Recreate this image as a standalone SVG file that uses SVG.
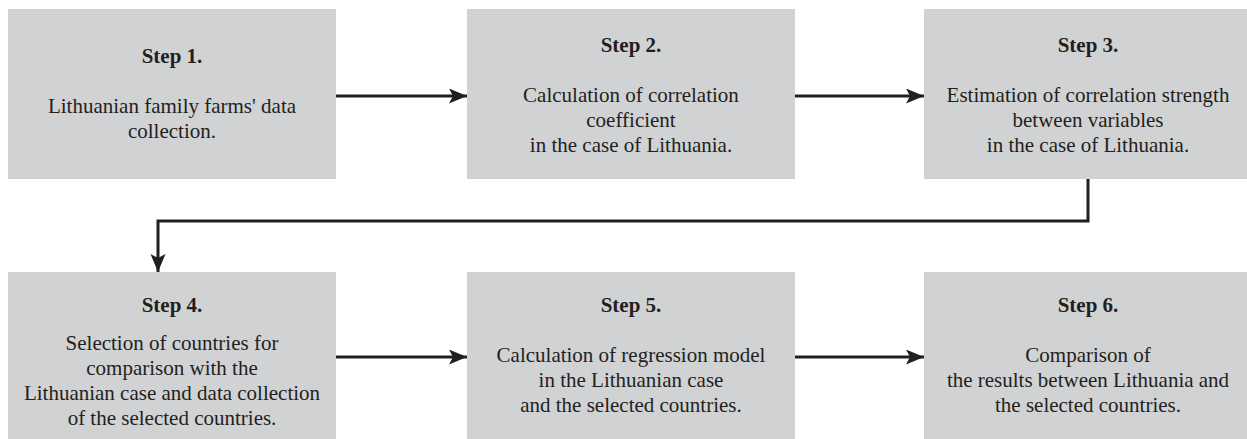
<svg xmlns="http://www.w3.org/2000/svg" width="1247" height="439" viewBox="0 0 1247 439">
<style>
.box{fill:#d1d2d4}
.t{font-size:21px;fill:#231f20;text-anchor:middle}
.h{font-weight:bold}
.c{fill:none;stroke:#231f20;stroke-width:3}
</style>
<defs>
<marker id="ah" markerUnits="userSpaceOnUse" markerWidth="20" markerHeight="16" refX="18" refY="7.5" orient="auto">
<path d="M0,0 L18,7.5 L0,15 L4,7.5 Z" fill="#231f20"/>
</marker>
</defs>
<rect width="1247" height="439" fill="#fff"/>
<g font-family="Liberation Serif, DejaVu Serif, serif">
<g id="step1"><rect class="box" x="8" y="9" width="328" height="170"/>
<text class="t h" x="172" y="63">Step 1.</text>
<text class="t" x="172" y="113">Lithuanian family farms' data</text>
<text class="t" x="172" y="138">collection.</text></g>
<g id="step2"><rect class="box" x="467" y="9" width="328" height="170"/>
<text class="t h" x="631" y="52">Step 2.</text>
<text class="t" x="631" y="102">Calculation of correlation</text>
<text class="t" x="631" y="127">coefficient</text>
<text class="t" x="631" y="152">in the case of Lithuania.</text></g>
<g id="step3"><rect class="box" x="924" y="9" width="328" height="170"/>
<text class="t h" x="1088" y="52">Step 3.</text>
<text class="t" x="1088" y="102">Estimation of correlation strength</text>
<text class="t" x="1088" y="127">between variables</text>
<text class="t" x="1088" y="152">in the case of Lithuania.</text></g>
<g id="step4"><rect class="box" x="8" y="272" width="328" height="170"/>
<text class="t h" x="172" y="312">Step 4.</text>
<text class="t" x="172" y="350">Selection of countries for</text>
<text class="t" x="172" y="375">comparison with the</text>
<text class="t" x="172" y="400">Lithuanian case and data collection</text>
<text class="t" x="172" y="425">of the selected countries.</text></g>
<g id="step5"><rect class="box" x="467" y="272" width="328" height="170"/>
<text class="t h" x="631" y="312">Step 5.</text>
<text class="t" x="631" y="362">Calculation of regression model</text>
<text class="t" x="631" y="387">in the Lithuanian case</text>
<text class="t" x="631" y="412">and the selected countries.</text></g>
<g id="step6"><rect class="box" x="924" y="272" width="328" height="170"/>
<text class="t h" x="1088" y="312">Step 6.</text>
<text class="t" x="1088" y="362">Comparison of</text>
<text class="t" x="1088" y="387">the results between Lithuania and</text>
<text class="t" x="1088" y="412">the selected countries.</text></g>
</g>
<g id="connectors">
<line class="c" x1="336" y1="96" x2="467" y2="96" marker-end="url(#ah)"/>
<line class="c" x1="795" y1="96" x2="924" y2="96" marker-end="url(#ah)"/>
<polyline class="c" points="1088,179 1088,221 158,221 158,272" marker-end="url(#ah)"/>
<line class="c" x1="336" y1="357" x2="467" y2="357" marker-end="url(#ah)"/>
<line class="c" x1="795" y1="357" x2="924" y2="357" marker-end="url(#ah)"/>
</g>
</svg>
